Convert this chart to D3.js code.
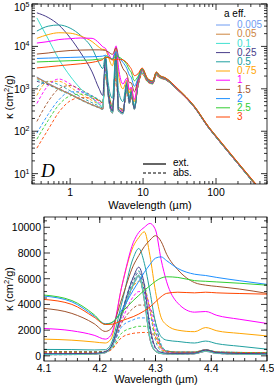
<!DOCTYPE html>
<html lang="en">
<head>
<meta charset="UTF-8">
<title>Opacities</title>
<script src="https://d3js.org/d3.v7.min.js"></script>
<style>
  body { margin: 0; background: #fff; }
  svg { display: block; font-family: "Liberation Sans", Arial, sans-serif; }
</style>
</head>
<body>
<svg id="chart" width="274" height="387"></svg>
<script>
// grain sizes (a eff., micron) and their colours
const sizes = ["0.005", "0.05", "0.1", "0.25", "0.5", "0.75", "1", "1.5", "2", "2.5", "3"];
const colors = ["#6f9cf2", "#cd853f", "#40e0d0", "#483d8b", "#20a0a0", "#ffa500",
                "#ff00ff", "#a0522d", "#1e90ff", "#32cd32", "#ff4500"];

// top panel: wavelength grid (micron)
const topWl = [0.35, 0.5, 0.7, 1.0, 1.4, 2.0, 2.5, 2.8, 3.05, 3.3, 3.8, 4.27, 4.6, 5.3, 6.0, 6.5,
               6.85, 7.6, 8.5, 9.7, 11.5, 13.5, 15.2, 17, 20, 30, 50, 80, 100, 200, 380];

// extinction kappa (cm2/g), one row per grain size
const topExt = [
  [1900, 1350, 1000, 750, 560, 420, 360, 330, 5000, 800, 270, 6200, 300, 260, 1300, 450, 850, 330, 1300, 2750, 1550, 1350, 2300, 1900, 1700, 940, 375, 118, 73, 17, 4.5],
  [1850, 1320, 990, 745, 558, 420, 360, 332, 5050, 810, 272, 6250, 302, 262, 1310, 455, 855, 332, 1305, 2755, 1555, 1355, 2305, 1905, 1705, 942, 376, 118, 73, 17, 4.5],
  [47000, 15000, 5000, 2000, 1000, 600, 430, 380, 5100, 830, 280, 6300, 310, 265, 1320, 460, 860, 335, 1310, 2760, 1560, 1360, 2310, 1910, 1710, 945, 377, 119, 73, 17, 4.5],
  [62000, 48000, 32000, 16000, 7000, 2500, 1000, 700, 5300, 900, 300, 6900, 330, 275, 1350, 480, 880, 345, 1320, 2770, 1570, 1370, 2320, 1920, 1720, 948, 378, 119, 73.5, 17.2, 4.6],
  [23000, 30000, 32000, 27000, 18000, 9000, 4000, 3000, 6000, 1500, 600, 8350, 900, 500, 1500, 600, 950, 400, 1380, 2800, 1590, 1390, 2340, 1935, 1730, 952, 380, 120, 74, 17.3, 4.6],
  [15500, 19000, 21000, 20500, 17500, 13000, 9500, 8500, 8500, 6000, 3500, 9600, 2200, 1000, 1600, 800, 1050, 500, 1450, 2830, 1610, 1410, 2360, 1950, 1745, 958, 382, 121, 74.5, 17.4, 4.6],
  [12000, 13000, 14500, 15200, 15800, 15500, 12000, 9800, 9000, 7000, 5000, 10300, 3200, 1300, 1800, 950, 1100, 560, 1500, 2850, 1630, 1420, 2380, 1965, 1760, 965, 384, 121, 75, 17.5, 4.7],
  [6600, 7000, 7600, 8000, 8200, 8300, 8300, 8200, 8000, 7500, 6500, 9300, 5800, 3000, 2200, 1400, 1400, 850, 1650, 2900, 1660, 1450, 2400, 1985, 1780, 975, 388, 122, 75.5, 17.7, 4.7],
  [5200, 5300, 5400, 5500, 5600, 5700, 5800, 5900, 6200, 5800, 5000, 7600, 5800, 4200, 3000, 2100, 1900, 1150, 1750, 2950, 1700, 1480, 2430, 2010, 1800, 985, 392, 123, 76, 17.9, 4.8],
  [4300, 4400, 4500, 4600, 4700, 4800, 5000, 5100, 5600, 5600, 5000, 6000, 5700, 4800, 3700, 2800, 2500, 1550, 1950, 3000, 1740, 1510, 2460, 2035, 1820, 995, 396, 124, 77, 18.1, 4.8],
  [3100, 3300, 3500, 3700, 3900, 4200, 4600, 4900, 5500, 5500, 4800, 4900, 5000, 4800, 4100, 3400, 3000, 2050, 2250, 3100, 1780, 1550, 2500, 2060, 1840, 1005, 400, 125, 78, 18.3, 4.9]
];

// absorption kappa (cm2/g)
const topAbs = [
  [1850, 1330, 990, 745, 555, 418, 358, 328, 4950, 790, 265, 6150, 295, 255, 1290, 445, 845, 325, 1290, 2730, 1540, 1340, 2290, 1890, 1690, 935, 373, 117, 72.5, 17, 4.5],
  [1750, 1280, 960, 730, 545, 412, 354, 325, 4950, 790, 265, 6200, 298, 258, 1300, 450, 850, 328, 1295, 2740, 1545, 1345, 2295, 1895, 1695, 938, 374, 117, 72.5, 17, 4.5],
  [1650, 1250, 950, 725, 545, 412, 354, 326, 4900, 790, 268, 6150, 300, 260, 1300, 450, 850, 330, 1300, 2740, 1550, 1350, 2300, 1900, 1700, 940, 375, 118, 73, 17, 4.5],
  [1500, 1250, 1000, 760, 560, 425, 365, 335, 4800, 800, 275, 6500, 310, 265, 1300, 455, 855, 335, 1300, 2740, 1555, 1355, 2305, 1905, 1705, 942, 376, 118, 73, 17.1, 4.5],
  [1100, 1500, 1250, 900, 640, 470, 390, 355, 4200, 850, 290, 6600, 330, 275, 1250, 460, 830, 340, 1290, 2700, 1550, 1350, 2290, 1900, 1700, 940, 376, 118, 73, 17.1, 4.5],
  [700, 1500, 1500, 1100, 750, 530, 430, 390, 3800, 900, 310, 5800, 340, 285, 1200, 470, 800, 345, 1270, 2650, 1540, 1345, 2270, 1890, 1695, 938, 375, 118, 73, 17.1, 4.5],
  [450, 1200, 1700, 1300, 880, 600, 470, 420, 3500, 950, 330, 5000, 350, 295, 1150, 480, 780, 350, 1250, 2600, 1530, 1340, 2250, 1880, 1690, 936, 374, 118, 73, 17.1, 4.5],
  [170, 500, 1000, 1200, 950, 680, 530, 460, 3000, 1000, 360, 3950, 370, 310, 1050, 490, 740, 360, 1220, 2500, 1510, 1330, 2200, 1860, 1680, 932, 373, 117, 72.5, 17, 4.5],
  [90, 250, 550, 850, 850, 680, 550, 480, 2600, 1000, 380, 2950, 380, 320, 950, 490, 700, 365, 1180, 2400, 1490, 1320, 2150, 1840, 1670, 928, 372, 117, 72.5, 17, 4.5],
  [65, 180, 420, 680, 750, 650, 540, 480, 2300, 980, 390, 2300, 385, 325, 870, 485, 660, 365, 1150, 2300, 1470, 1310, 2100, 1820, 1660, 925, 371, 117, 72.5, 17, 4.5],
  [40, 110, 280, 520, 620, 600, 520, 470, 2000, 950, 395, 1820, 385, 330, 800, 480, 630, 365, 1120, 2200, 1450, 1300, 2050, 1800, 1650, 922, 370, 116, 72, 17, 4.5]
];

// bottom panel: zoom on the 4.27 micron band
const botWl = [4.10, 4.15, 4.19, 4.21, 4.22, 4.24, 4.26, 4.27, 4.28, 4.29, 4.30, 4.31, 4.32, 4.34, 4.37, 4.39, 4.41, 4.45, 4.50];

const botExt = [
  [90, 100, 130, 250, 600, 3200, 5500, 6200, 4300, 1300, 350, 180, 150, 140, 160, 350, 190, 130, 110],
  [95, 105, 135, 260, 620, 3250, 5550, 6250, 4350, 1350, 360, 185, 155, 145, 165, 360, 195, 135, 115],
  [110, 120, 150, 280, 650, 3300, 5600, 6300, 4500, 1450, 380, 200, 165, 150, 175, 380, 205, 145, 120],
  [170, 175, 200, 320, 700, 3400, 6100, 6900, 5500, 2300, 650, 280, 210, 190, 210, 450, 250, 190, 160],
  [500, 490, 460, 480, 900, 4200, 7600, 8350, 7200, 5000, 2600, 1500, 1220, 1120, 1000, 1150, 950, 750, 520],
  [1300, 1220, 1080, 1000, 1300, 5500, 8500, 9200, 9650, 7800, 5000, 3000, 2400, 2000, 1880, 2200, 1950, 1750, 1550],
  [2130, 1950, 1600, 1300, 1600, 5500, 8800, 9600, 10000, 10300, 9800, 7500, 5760, 4100, 3400, 3450, 3150, 2850, 2520],
  [3690, 3300, 2500, 1900, 2100, 4500, 7000, 7800, 8500, 9000, 9350, 8900, 7900, 6700, 5700, 5500, 5400, 5200, 4860],
  [4650, 4200, 3100, 2500, 2550, 3600, 5100, 5800, 6500, 7100, 7600, 7700, 7400, 6800, 6350, 6250, 6100, 5850, 5560],
  [4730, 4300, 3200, 2450, 2550, 3400, 4300, 4700, 5100, 5450, 5800, 6050, 6150, 6100, 5850, 5800, 5750, 5650, 5500],
  [4390, 4000, 3000, 2450, 2450, 2750, 3050, 3250, 3500, 3800, 4200, 4600, 4860, 4950, 4900, 4950, 4900, 4850, 4800]
];

const botAbs = [
  [85, 95, 125, 240, 580, 3150, 5450, 6150, 4250, 1280, 340, 175, 145, 135, 155, 340, 185, 125, 105],
  [90, 100, 130, 250, 600, 3200, 5500, 6200, 4300, 1320, 350, 180, 150, 140, 160, 350, 190, 130, 110],
  [100, 110, 140, 265, 620, 3200, 5450, 6150, 4350, 1380, 360, 190, 158, 145, 168, 365, 198, 140, 115],
  [140, 150, 175, 290, 650, 3250, 5800, 6500, 5000, 2000, 550, 230, 180, 165, 185, 400, 215, 165, 140],
  [220, 225, 230, 300, 700, 3500, 6100, 6600, 5600, 3500, 1200, 400, 260, 220, 225, 430, 240, 200, 180],
  [270, 270, 270, 320, 700, 3200, 5400, 5800, 5300, 3600, 1500, 500, 300, 250, 250, 460, 260, 220, 200],
  [300, 300, 300, 340, 650, 2800, 4600, 5000, 4900, 3800, 1900, 650, 330, 270, 270, 470, 280, 240, 220],
  [330, 330, 320, 350, 600, 2600, 3700, 3950, 3950, 3700, 2600, 800, 380, 290, 290, 480, 300, 260, 240],
  [330, 320, 310, 340, 550, 2300, 2800, 2950, 2950, 2900, 2300, 900, 400, 300, 300, 480, 310, 270, 250],
  [320, 310, 300, 330, 500, 1800, 2200, 2300, 2300, 2250, 1800, 750, 380, 300, 300, 470, 310, 270, 250],
  [300, 295, 285, 310, 450, 1450, 1750, 1800, 1820, 1800, 1450, 620, 340, 290, 290, 460, 300, 265, 245]
];

const svg = d3.select("#chart");
const font = 10.5;

// ---------- scales ----------
const xTop = d3.scaleLog().domain([0.3, 500]).range([32, 267]);
const yTop = d3.scaleLog().domain([5.7, 1e5]).range([184, 4]);
const xBot = d3.scaleLinear().domain([4.1, 4.5]).range([44, 267]);
const yBot = d3.scaleLinear().domain([-400, 10800]).range([361, 217]);

function clip(id, x, y) {
  svg.append("clipPath").attr("id", id).append("rect")
    .attr("x", x.range()[0]).attr("y", y.range()[1])
    .attr("width", x.range()[1] - x.range()[0])
    .attr("height", y.range()[0] - y.range()[1]);
}
clip("clipTop", xTop, yTop);
clip("clipBot", xBot, yBot);

function drawCurves(id, x, y, wl, ext, abs) {
  const g = svg.append("g").attr("clip-path", `url(#${id})`).attr("fill", "none");
  const line = d3.line()
    .x((d, i) => x(wl[i]))
    .y(d => y(d))
    .curve(d3.curveMonotoneX);
  g.selectAll("path.abs").data(abs).join("path")
    .attr("class", "abs")
    .attr("d", line)
    .attr("stroke", (d, i) => colors[i])
    .attr("stroke-width", 0.9)
    .attr("stroke-dasharray", "3,2");
  g.selectAll("path.ext").data(ext).join("path")
    .attr("class", "ext")
    .attr("d", line)
    .attr("stroke", (d, i) => colors[i])
    .attr("stroke-width", 1);
}

drawCurves("clipTop", xTop, yTop, topWl, topExt, topAbs);
drawCurves("clipBot", xBot, yBot, botWl, botExt, botAbs);

// ---------- frames and ticks (inward, on all four sides) ----------
function drawFrame(x, y, xMaj, xMin, yMaj, yMin) {
  const [l, r] = x.range(), [b, t] = y.range();
  const g = svg.append("g").attr("stroke", "#000").attr("stroke-width", 0.8);
  g.append("rect").attr("x", l).attr("y", t).attr("width", r - l).attr("height", b - t)
    .attr("fill", "none");
  const xt = (vals, len) => {
    g.append("g").selectAll("line").data(vals).join("line")
      .attr("x1", d => x(d)).attr("x2", d => x(d)).attr("y1", b).attr("y2", b - len);
    g.append("g").selectAll("line").data(vals).join("line")
      .attr("x1", d => x(d)).attr("x2", d => x(d)).attr("y1", t).attr("y2", t + len);
  };
  const yt = (vals, len) => {
    g.append("g").selectAll("line").data(vals).join("line")
      .attr("y1", d => y(d)).attr("y2", d => y(d)).attr("x1", l).attr("x2", l + len);
    g.append("g").selectAll("line").data(vals).join("line")
      .attr("y1", d => y(d)).attr("y2", d => y(d)).attr("x1", r).attr("x2", r - len);
  };
  xt(xMaj, 6); xt(xMin, 3);
  yt(yMaj, 6); yt(yMin, 3);
}

const inDomain = (s, v) => v >= s.domain()[0] && v <= s.domain()[1];
const logMinor = s => s.ticks().filter(v => inDomain(s, v) && Math.abs(Math.log10(v) % 1) > 1e-6);

const topXMaj = [1, 10, 100];
const topYMaj = [10, 100, 1000, 10000, 100000];
drawFrame(xTop, yTop, topXMaj, logMinor(xTop), topYMaj, logMinor(yTop));

const botXMaj = [4.1, 4.2, 4.3, 4.4, 4.5];
const botYMaj = [0, 2000, 4000, 6000, 8000, 10000];
drawFrame(xBot, yBot, botXMaj, d3.range(4.12, 4.5, 0.02), botYMaj,
  d3.range(0, 10800, 500).filter(v => v % 2000 !== 0));

// ---------- tick labels ----------
svg.append("g").selectAll("text").data(topXMaj).join("text")
  .attr("x", d => xTop(d)).attr("y", 196)
  .attr("text-anchor", "middle").attr("font-size", font)
  .text(d => d);

// powers of ten; the top one is nudged down so it stays on the page
const yl = svg.append("g").selectAll("text").data(topYMaj).join("text")
  .attr("x", 29.5).attr("y", d => Math.max(yTop(d) + 4, 10.5))
  .attr("text-anchor", "end").attr("font-size", font);
yl.append("tspan").text("10");
yl.append("tspan").attr("dy", -4).attr("font-size", 7).text(d => Math.round(Math.log10(d)));

svg.append("g").selectAll("text").data(botXMaj).join("text")
  .attr("x", d => xBot(d)).attr("y", 372)
  .attr("text-anchor", "middle").attr("font-size", font)
  .text(d => d3.format(".1f")(d));

svg.append("g").selectAll("text").data(botYMaj).join("text")
  .attr("x", 41).attr("y", d => yBot(d) + 3.8)
  .attr("text-anchor", "end").attr("font-size", font)
  .text(d => d);

// ---------- axis titles ----------
svg.append("text").attr("x", 150).attr("y", 209).attr("text-anchor", "middle")
  .attr("font-size", 11).text("Wavelength (\u00b5m)");
svg.append("text").attr("x", 156).attr("y", 383).attr("text-anchor", "middle")
  .attr("font-size", 11).text("Wavelength (\u00b5m)");

function yTitle(cy) {
  const t = svg.append("text").attr("transform", `translate(13,${cy}) rotate(-90)`)
    .attr("text-anchor", "middle").attr("font-size", 11);
  t.append("tspan").text("\u03ba (cm");
  t.append("tspan").attr("dy", -4).attr("font-size", 7.5).text("2");
  t.append("tspan").attr("dy", 4).text("/g)");
}
yTitle(97);
yTitle(289);

// ---------- size legend ----------
svg.append("text").attr("x", 224).attr("y", 16.5).attr("font-size", 10).text("a eff.");
const leg = svg.append("g").selectAll("g").data(sizes).join("g")
  .attr("transform", (d, i) => `translate(0,${25 + i * 9.2})`);
leg.append("line").attr("x1", 216).attr("x2", 230)
  .attr("stroke", (d, i) => colors[i]).attr("stroke-width", 1);
leg.append("text").attr("x", 237).attr("y", 3.2).attr("font-size", 10)
  .attr("fill", (d, i) => colors[i]).text(d => d);

// ---------- line style legend ----------
svg.append("line").attr("x1", 143).attr("x2", 166).attr("y1", 164).attr("y2", 164)
  .attr("stroke", "#000").attr("stroke-width", 1.2);
svg.append("text").attr("x", 173).attr("y", 165.5).attr("font-size", 10).text("ext.");
svg.append("line").attr("x1", 143).attr("x2", 166).attr("y1", 173).attr("y2", 173)
  .attr("stroke", "#000").attr("stroke-width", 1.2).attr("stroke-dasharray", "3,2");
svg.append("text").attr("x", 173).attr("y", 175.5).attr("font-size", 10).text("abs.");

// panel letter
svg.append("text").attr("x", 41).attr("y", 177)
  .attr("font-family", "'Liberation Serif', 'Times New Roman', serif")
  .attr("font-style", "italic").attr("font-size", 19).text("D");
</script>
</body>
</html>
